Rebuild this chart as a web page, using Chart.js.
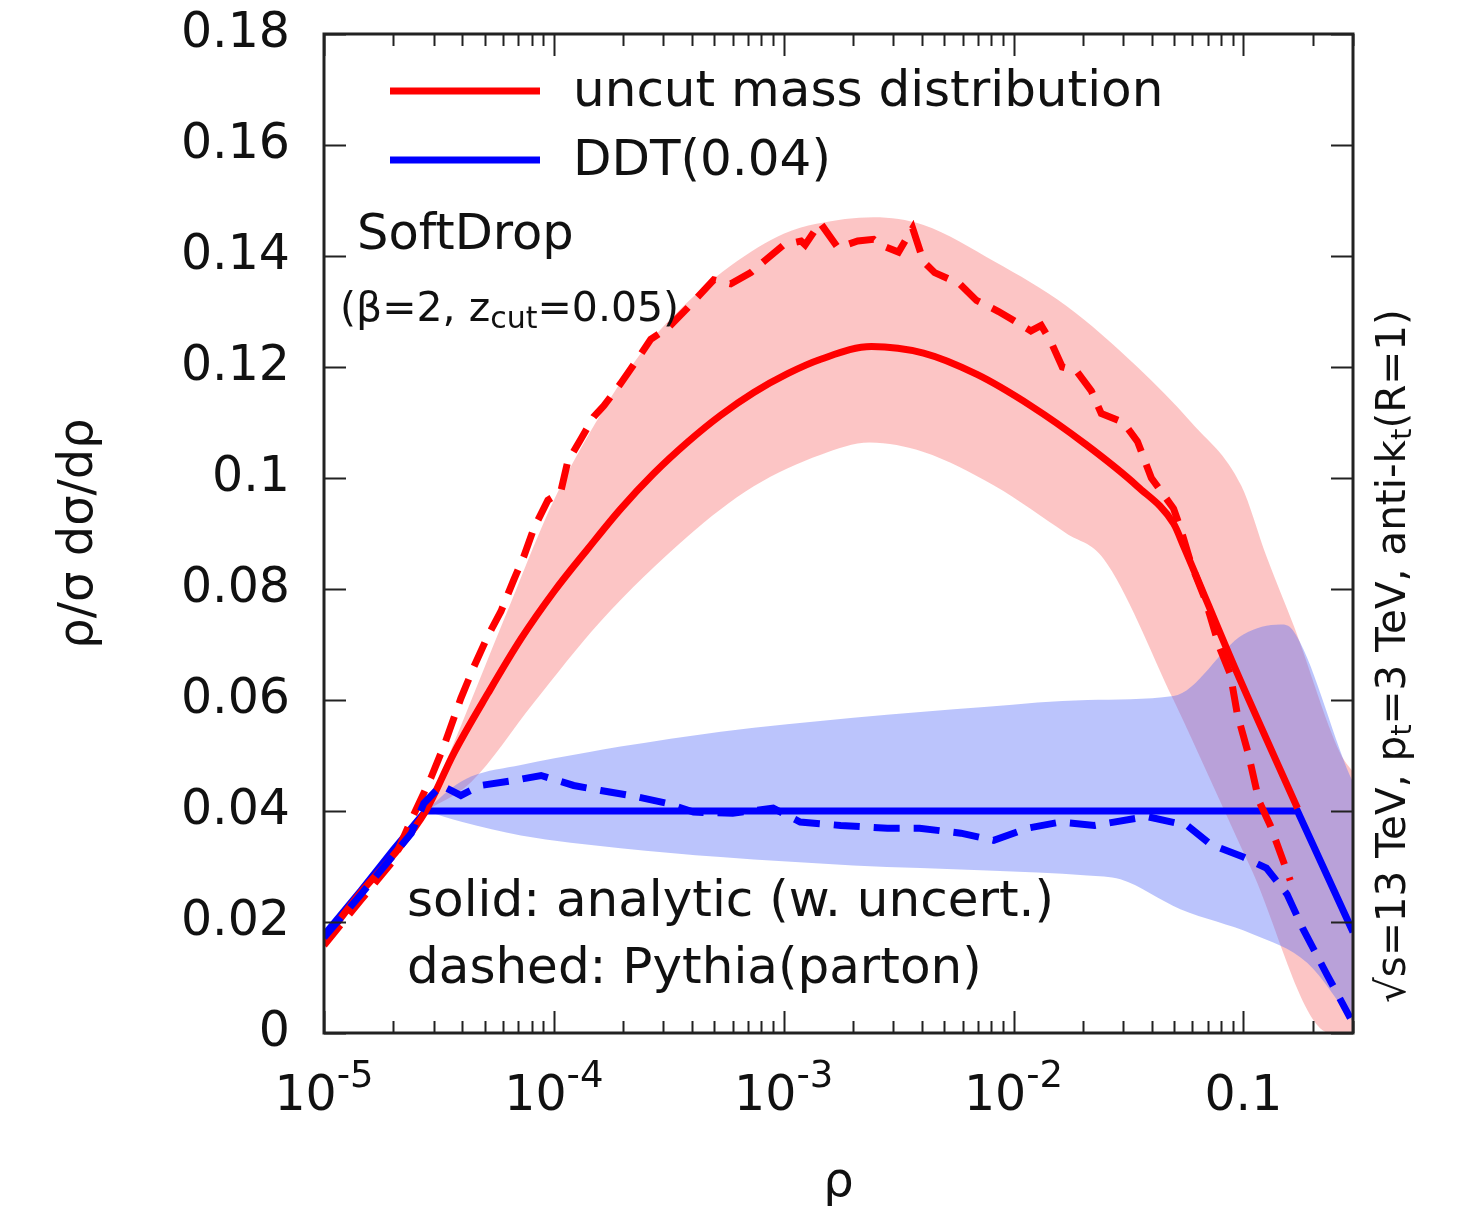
<!DOCTYPE html>
<html lang="en">
<head>
  <meta charset="UTF-8">
  <title>SoftDrop / DDT mass distribution</title>
  <script src="https://cdn.jsdelivr.net/npm/chart.js"></script>
  <style>
    html, body { margin: 0; padding: 0; background: #fff; }
  </style>
</head>
<body>
  <canvas id="massChart" width="1460" height="1217"></canvas>

  <script>
    // uncut mass distribution, analytic (solid red)
    const redSolidRho = [1e-5, 1.45e-5, 2.0e-5, 2.77e-5, 3.67e-5, 5.17e-5, 7.19e-5, 1.0e-4, 1.41e-4, 1.95e-4,
                         2.72e-4, 3.83e-4, 5.32e-4, 7.41e-4, 1.04e-3, 1.45e-3, 2.41e-3, 4.06e-3, 6.9e-3, 1.19e-2,
                         2.04e-2, 3.46e-2, 4.97e-2, 0.055, 0.0914, 0.172];
    const redSolidVal = [0.0167, 0.0254, 0.032, 0.040, 0.0504, 0.0612, 0.071, 0.0795, 0.0873, 0.0944,
                         0.1008, 0.1065, 0.1113, 0.1154, 0.1188, 0.1214, 0.1237, 0.1225, 0.1187, 0.1130,
                         0.1062, 0.0985, 0.0918, 0.0877, 0.066, 0.0405];

    // uncut mass distribution, Pythia parton level (dashed red)
    const redDashRho = [1e-5, 1.45e-5, 2.0e-5, 2.39e-5, 2.92e-5, 3.33e-5, 3.94e-5, 4.49e-5, 5.17e-5, 5.89e-5,
                        6.70e-5, 7.41e-5, 8.18e-5, 9.42e-5, 1.07e-4, 1.15e-4, 1.31e-4, 1.49e-4, 1.65e-4, 1.95e-4,
                        2.32e-4, 2.64e-4, 3.13e-4, 3.83e-4, 4.96e-4, 5.89e-4, 7.19e-4, 8.18e-4, 1.0e-3, 1.19e-3,
                        1.24e-3, 1.44e-3, 1.72e-3, 2.1e-3, 2.46e-3, 2.64e-3, 3.16e-3, 3.64e-3, 4.06e-3, 4.54e-3,
                        5.82e-3, 6.9e-3, 8.61e-3, 9.9e-3, 1.19e-2, 1.32e-2, 1.46e-2, 1.63e-2, 1.88e-2, 2.18e-2,
                        2.41e-2, 3.01e-2, 3.46e-2, 3.98e-2, 4.97e-2, 5.32e-2, 5.94e-2, 6.84e-2, 7.87e-2, 8.78e-2,
                        9.42e-2, 0.105, 0.117, 0.131, 0.16];
    const redDashVal = [0.0158, 0.024, 0.031, 0.0383, 0.046, 0.0518, 0.0603, 0.066, 0.0716, 0.076,
                        0.0817, 0.0859, 0.0909, 0.096, 0.0974, 0.103, 0.107, 0.111, 0.113, 0.117,
                        0.1215, 0.125, 0.127, 0.1307, 0.1357, 0.135, 0.137, 0.139, 0.142, 0.1427,
                        0.142, 0.146, 0.1415, 0.1427, 0.143, 0.142, 0.1407, 0.145, 0.139, 0.137,
                        0.135, 0.132, 0.130, 0.1285, 0.1265, 0.1275, 0.1244, 0.120, 0.1193, 0.1157,
                        0.1116, 0.110, 0.1066, 0.100, 0.0945, 0.091, 0.0844, 0.078, 0.0695, 0.0646,
                        0.0574, 0.0504, 0.0418, 0.0374, 0.0275];

    // uncertainty band of the uncut distribution
    const redBandUpRho = [2.77e-5, 4.0e-5, 6.0e-5, 1.0e-4, 1.6e-4, 2.5e-4, 4.0e-4, 6.0e-4, 1.0e-3, 1.39e-3,
                          2.46e-3, 4.06e-3, 8.26e-3, 1.70e-2, 3.46e-2, 5.94e-2, 0.098, 0.126, 0.167, 0.264, 0.3];
    const redBandUp = [0.040, 0.056, 0.074, 0.096, 0.1115, 0.1235, 0.1325, 0.1385, 0.1440, 0.1458,
                       0.147, 0.1456, 0.139, 0.131, 0.120, 0.110, 0.0986, 0.0859, 0.073, 0.0504, 0.047];
    const redBandLowRho = [2.77e-5, 4.36e-5, 8.18e-5, 1.585e-4, 3.83e-4, 7.41e-4, 1.45e-3, 2.37e-3, 4.06e-3, 8.26e-3,
                           1.70e-2, 2.46e-2, 4.97e-2, 0.107, 0.239, 0.3];
    const redBandLow = [0.040, 0.0452, 0.0595, 0.0740, 0.0895, 0.0985, 0.1042, 0.1064, 0.1047, 0.0986,
                        0.0900, 0.0855, 0.060, 0.030, 0.0, 0.0];

    // DDT(0.04), analytic (solid blue) and Pythia (dashed blue)
    const blueSolidRho = [1e-5, 1.45e-5, 2.0e-5, 2.77e-5, 0.172, 0.3];
    const blueSolidVal = [0.0176, 0.0257, 0.033, 0.040, 0.040, 0.0182];

    const blueDashRho = [1e-5, 1.45e-5, 2.0e-5, 2.4e-5, 2.72e-5, 3.23e-5, 3.94e-5, 4.81e-5, 6.7e-5, 8.8e-5,
                         1.22e-4, 1.6e-4, 2.22e-4, 3.1e-4, 4.05e-4, 6.0e-4, 9.0e-4, 1.18e-3, 1.77e-3, 2.83e-3,
                         3.9e-3, 5.9e-3, 8.2e-3, 1.15e-2, 1.6e-2, 2.25e-2, 3.8e-2, 5.7e-2, 7.19e-2, 0.1,
                         0.126, 0.155, 0.182, 0.232, 0.292];
    const blueDashVal = [0.0172, 0.025, 0.032, 0.036, 0.0414, 0.0446, 0.0428, 0.0446, 0.0455, 0.0464,
                         0.0446, 0.0437, 0.0427, 0.0414, 0.0398, 0.0396, 0.0405, 0.038, 0.0374, 0.0369,
                         0.0369, 0.036, 0.0347, 0.0369, 0.038, 0.0374, 0.039, 0.0374, 0.034, 0.0317,
                         0.0297, 0.025, 0.0187, 0.0104, 0.0027];

    // uncertainty band of DDT
    const blueBandUpRho = [2.77e-5, 3.56e-5, 4.36e-5, 7.19e-5, 1.41e-4, 1.95e-4, 5.32e-4, 2.01e-3, 7.7e-3, 2.1e-2,
                           4.97e-2, 0.1, 0.145, 0.164, 0.292, 0.3];
    const blueBandUp = [0.040, 0.0440, 0.0462, 0.0483, 0.0506, 0.0516, 0.0543, 0.0568, 0.0588, 0.0600,
                        0.0607, 0.0718, 0.0736, 0.0726, 0.0462, 0.0452];
    const blueBandLowRho = [2.77e-5, 4.0e-5, 7.19e-5, 1.95e-4, 5.32e-4, 2.01e-3, 7.7e-3, 2.1e-2, 2.92e-2, 5.32e-2,
                            0.110, 0.19, 0.3];
    const blueBandLow = [0.040, 0.038, 0.0356, 0.0333, 0.0317, 0.0302, 0.0293, 0.0284, 0.0277, 0.0223,
                         0.0178, 0.0126, 0.002];

    // axis ticks
    const xDecades = [1e-5, 1e-4, 1e-3, 1e-2, 1e-1];
    const xDecadeLabels = [['10', '-5'], ['10', '-4'], ['10', '-3'], ['10', '-2'], ['0.1', '']];
    const yTickStep = 0.02;

    const FONT = 'DejaVu Sans';
    const RED = '#ff0000';
    const BLUE = '#0000ff';

    function pts(xs, ys) {
      return xs.map((x, i) => ({ x: x, y: ys[i] }));
    }

    function band(xs, ys, color, order, fillTarget) {
      return {
        data: pts(xs, ys),
        borderWidth: 0,
        pointRadius: 0,
        cubicInterpolationMode: 'monotone',
        fill: fillTarget ? { target: fillTarget, above: color, below: color } : false,
        backgroundColor: color,
        order: order
      };
    }

    // draws a run of text pieces: [text, size, baseline shift]
    function drawRich(ctx, parts, x, y, align) {
      let total = 0;
      parts.forEach(p => { ctx.font = p[1] + 'px "' + FONT + '"'; total += ctx.measureText(p[0]).width; });
      let cx = align === 'center' ? x - total / 2 : x;
      ctx.textAlign = 'left';
      parts.forEach(p => {
        ctx.font = p[1] + 'px "' + FONT + '"';
        ctx.fillText(p[0], cx, y + (p[2] || 0));
        cx += ctx.measureText(p[0]).width;
      });
    }

    const decorations = {
      id: 'decorations',
      afterDraw(chart) {
        const { ctx, chartArea: a, scales } = chart;
        const x = scales.x, y = scales.y;
        ctx.save();

        // tick marks on all four sides, pointing inward
        ctx.strokeStyle = '#222';
        ctx.lineWidth = 2;
        ctx.beginPath();
        y.ticks.forEach(t => {
          const py = Math.round(y.getPixelForValue(t.value)) + 0.5;
          ctx.moveTo(a.left, py); ctx.lineTo(a.left + 22, py);
          ctx.moveTo(a.right, py); ctx.lineTo(a.right - 22, py);
        });
        xDecades.forEach(d => {
          for (let m = 1; m <= 9; m++) {
            const v = m * d;
            if (v > x.max * 1.0001) break;
            const px = Math.round(x.getPixelForValue(v)) + 0.5;
            const len = m === 1 ? 22 : 12;
            ctx.moveTo(px, a.bottom); ctx.lineTo(px, a.bottom - len);
            ctx.moveTo(px, a.top); ctx.lineTo(px, a.top + len);
          }
        });
        ctx.stroke();

        // frame
        ctx.lineWidth = 3;
        ctx.strokeRect(a.left, a.top, a.right - a.left, a.bottom - a.top);

        // x tick labels with exponents
        ctx.fillStyle = '#111';
        ctx.textBaseline = 'alphabetic';
        xDecades.forEach((d, i) => {
          const px = x.getPixelForValue(d);
          const lab = xDecadeLabels[i];
          const parts = [[lab[0], 49, 0]];
          if (lab[1]) parts.push([lab[1], 37, -23]);
          drawRich(ctx, parts, px, 1110, 'center');
        });

        // legend
        ctx.lineWidth = 7;
        ctx.strokeStyle = RED;
        ctx.beginPath(); ctx.moveTo(390, 91); ctx.lineTo(540, 91); ctx.stroke();
        ctx.strokeStyle = BLUE;
        ctx.beginPath(); ctx.moveTo(390, 160); ctx.lineTo(540, 160); ctx.stroke();
        ctx.textBaseline = 'middle';
        drawRich(ctx, [['uncut mass distribution', 50]], 573, 93, 'left');
        drawRich(ctx, [['DDT(0.04)', 50]], 573, 162, 'left');

        // annotations
        drawRich(ctx, [['SoftDrop', 49.5]], 357, 236, 'left');
        drawRich(ctx, [['(\u03b2=2, z', 41], ['cut', 30, 10], ['=0.05)', 41]], 340, 310, 'left');
        drawRich(ctx, [['solid: analytic (w. uncert.)', 50]], 407, 903, 'left');
        drawRich(ctx, [['dashed: Pythia(parton)', 50]], 407, 970, 'left');

        // rotated run info on the right
        ctx.translate(1394, 1003);
        ctx.rotate(-Math.PI / 2);
        drawRich(ctx, [['\u221as=13 TeV, p', 40.5], ['t', 29, 9], ['=3 TeV, anti-k', 40.5], ['t', 29, 9], ['(R=1)', 40.5]], 0, 0, 'left');

        ctx.restore();
      }
    };

    const ctx = document.getElementById('massChart').getContext('2d');
    new Chart(ctx, {
      type: 'line',
      data: {
        datasets: [
          band(redBandUpRho, redBandUp, 'rgba(247, 110, 110, 0.4)', 10, '+1'),
          band(redBandLowRho, redBandLow, 'rgba(247, 110, 110, 0.4)', 10, null),
          band(blueBandUpRho, blueBandUp, 'rgba(85, 107, 247, 0.4)', 9, '+1'),
          band(blueBandLowRho, blueBandLow, 'rgba(85, 107, 247, 0.4)', 9, null),
          {
            label: 'DDT(0.04)',
            data: pts(blueSolidRho, blueSolidVal),
            borderColor: BLUE, borderWidth: 7, pointRadius: 0, fill: false,
            tension: 0, order: 4
          },
          {
            label: 'uncut mass distribution',
            data: pts(redSolidRho, redSolidVal),
            borderColor: RED, borderWidth: 7, pointRadius: 0, fill: false,
            cubicInterpolationMode: 'monotone', order: 3
          },
          {
            label: 'uncut (Pythia)',
            data: pts(redDashRho, redDashVal),
            borderColor: RED, borderWidth: 7, pointRadius: 0, fill: false,
            borderDash: [26, 14], tension: 0, order: 2
          },
          {
            label: 'DDT (Pythia)',
            data: pts(blueDashRho, blueDashVal),
            borderColor: BLUE, borderWidth: 7, pointRadius: 0, fill: false,
            borderDash: [26, 14], tension: 0, order: 1
          }
        ]
      },
      options: {
        responsive: false,
        devicePixelRatio: 1,
        animation: false,
        layout: { padding: { top: 34, right: 107, left: 0, bottom: 0 } },
        plugins: {
          legend: { display: false },
          tooltip: { enabled: false }
        },
        scales: {
          x: {
            type: 'logarithmic',
            min: 1e-5,
            max: 0.3,
            grid: { display: false, drawTicks: false },
            border: { display: false },
            ticks: { display: false },
            title: {
              display: true, text: '\u03c1', color: '#111',
              font: { family: FONT, size: 48 },
              padding: { top: 0, bottom: 5 }
            },
            afterFit(scale) { scale.height = 184; }
          },
          y: {
            min: 0,
            max: 0.18,
            grid: { display: false, drawTicks: false },
            border: { display: false },
            ticks: {
              stepSize: yTickStep,
              padding: 34,
              color: '#111',
              font: { family: FONT, size: 49 },
              callback: v => String(Number(v.toFixed(2)))
            },
            title: {
              display: true, text: '\u03c1/\u03c3 d\u03c3/d\u03c1', color: '#111',
              font: { family: FONT, size: 48 },
              padding: { top: 51, bottom: 0 }
            },
            afterFit(scale) {
              scale.width = 324;
              scale.paddingTop = 0;
              scale.paddingBottom = 0;
            }
          }
        }
      },
      plugins: [decorations]
    });
  </script>
</body>
</html>
